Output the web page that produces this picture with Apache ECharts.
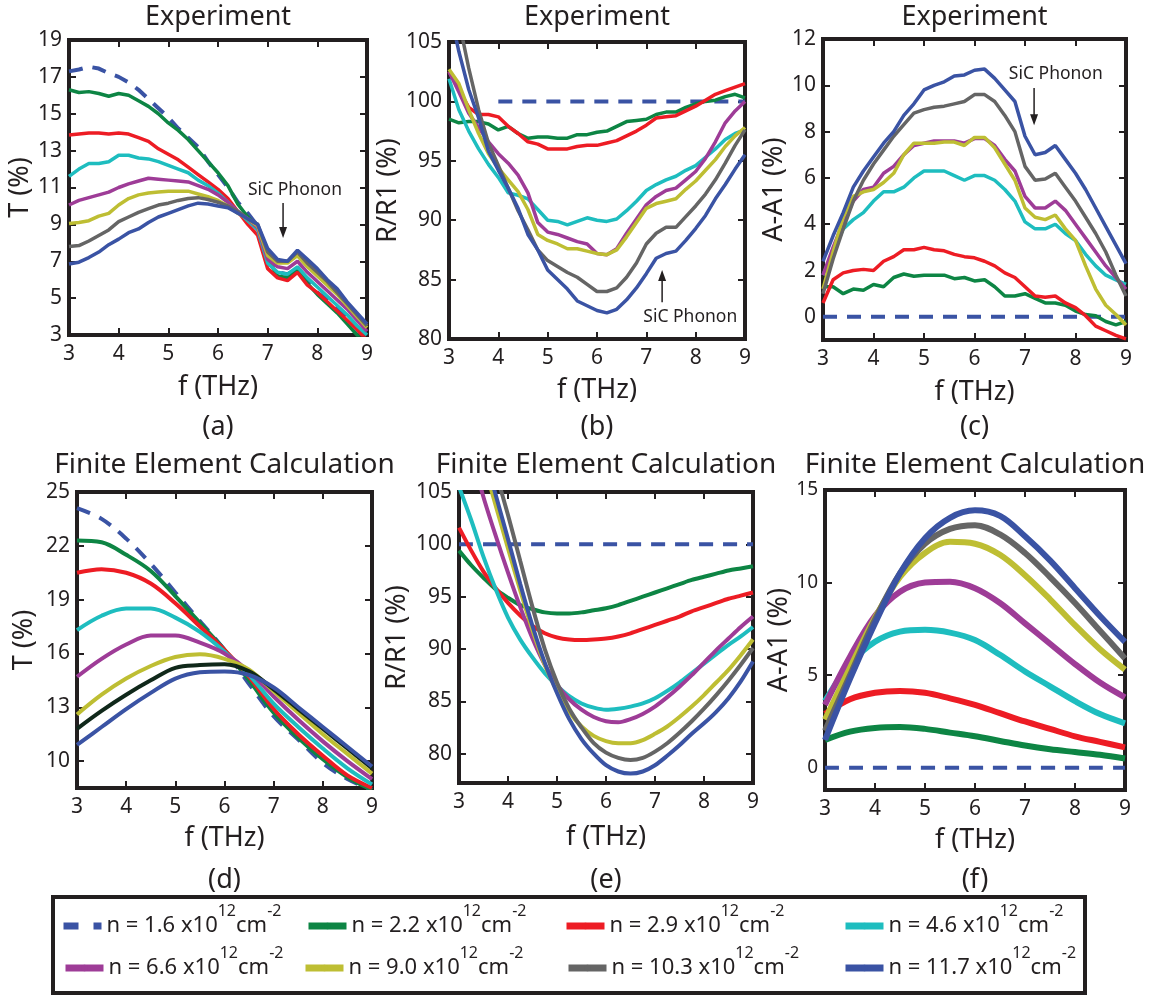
<!DOCTYPE html>
<html><head><meta charset="utf-8">
<script src="https://cdn.jsdelivr.net/npm/echarts@6/dist/echarts.min.js"></script>
<style>html,body{margin:0;padding:0;background:#fff}#main{width:1156px;height:998px}</style>
</head><body><div id="main"></div>
<script>
// ---------- data ----------
const densities = ['1.6','2.2','2.9','4.6','6.6','9.0','10.3','11.7'];
const seriesNames = densities.map(d => 'n = ' + d + ' x10^12 cm^-2');

const fExp = [3.0,3.2,3.4,3.6,3.8,4.0,4.2,4.4,4.6,4.8,5.0,5.2,5.4,5.6,5.8,6.0,6.2,6.4,6.6,6.8,7.0,7.2,7.4,7.6,7.8,8.0,8.2,8.4,8.6,8.8,9.0];
const fCalc = [3.0,3.5,4.0,4.5,5.0,5.5,6.0,6.5,7.0,7.5,8.0,8.5,9.0];
const fCalcE = [3.0,3.25,3.5,3.75,4.0,4.25,4.5,4.75,5.0,5.25,5.5,5.75,6.0,6.25,6.5,6.75,7.0,7.25,7.5,7.75,8.0,8.25,8.5,8.75,9.0];

const yTicksA = [3,5,7,9,11,13,15,17,19];
const yTicksB = [80,85,90,95,100,105];
const yTicksC = [0,2,4,6,8,10,12];
const yTicksD = [10,13,16,19,22,25];
const yTicksE = [80,85,90,95,100,105];
const yTicksF = [0,5,10,15];

// (a) Experiment, T (%)
const expT = [
 [17.3,17.4,17.55,17.45,17.2,17.0,16.7,16.3,15.8,15.3,14.8,14.2,13.7,13.2,12.4,11.7,11.0,10.2,9.6,8.9,7.2,6.4,6.3,6.6,5.9,5.3,4.9,4.4,3.9,3.3,2.8],
 [16.3,16.15,16.2,16.1,15.95,16.1,16.0,15.7,15.4,15.0,14.5,14.1,13.6,13.0,12.4,11.8,11.1,10.1,9.4,8.8,7.1,6.2,6.1,6.5,5.8,5.2,4.7,4.2,3.6,3.0,2.4],
 [13.85,13.9,13.95,13.95,13.9,13.95,13.9,13.7,13.5,13.1,12.8,12.5,12.1,11.7,11.3,10.9,10.4,9.7,9.0,8.4,6.6,6.1,5.95,6.4,5.7,5.3,4.8,4.3,3.8,3.3,2.7],
 [11.6,12.0,12.3,12.3,12.4,12.75,12.75,12.6,12.55,12.4,12.2,12.0,11.8,11.4,11.1,10.7,10.2,9.7,9.2,8.7,6.9,6.4,6.3,6.7,6.1,5.6,5.1,4.6,4.1,3.5,3.0],
 [10.05,10.3,10.45,10.6,10.75,11.0,11.2,11.35,11.5,11.45,11.4,11.35,11.3,11.1,10.9,10.6,10.2,9.7,9.3,8.8,7.1,6.7,6.6,7.0,6.4,5.9,5.4,4.9,4.4,3.8,3.2],
 [9.05,9.1,9.2,9.45,9.6,10.05,10.4,10.6,10.7,10.75,10.8,10.8,10.8,10.65,10.5,10.3,10.0,9.6,9.3,8.9,7.3,6.9,6.9,7.3,6.7,6.2,5.7,5.2,4.6,4.0,3.4],
 [7.8,7.85,8.1,8.4,8.7,9.15,9.4,9.65,9.85,10.05,10.15,10.3,10.4,10.45,10.35,10.2,10.0,9.7,9.3,9.0,7.5,7.0,7.0,7.5,6.9,6.4,5.9,5.3,4.7,4.1,3.5],
 [6.85,6.95,7.2,7.5,7.9,8.2,8.55,8.75,9.1,9.4,9.6,9.8,10.0,10.15,10.1,10.0,9.9,9.6,9.3,9.0,7.7,7.1,7.0,7.6,7.1,6.6,6.0,5.5,4.8,4.2,3.6]
];
// (b) Experiment, R/R1 (%)
const expR = [
 [null,null,null,null,null,100,100,100,100,100,100,100,100,100,100,100,100,100,100,100,100,100,100,100,100,100,100,100,100,100,100],
 [98.5,98.2,98.3,98.3,98.1,97.6,97.9,97.3,96.9,97.0,97.0,96.9,96.9,97.2,97.2,97.4,97.5,97.9,98.3,98.4,98.5,98.9,99.1,99.1,99.5,99.8,100.0,100.1,100.4,100.6,100.3],
 [102.5,101.0,99.5,98.9,98.9,98.7,97.9,97.3,96.6,96.4,96.0,96.0,96.0,96.2,96.3,96.3,96.5,96.7,97.1,97.5,98.0,98.6,98.7,98.8,99.2,99.6,100.1,100.6,100.9,101.2,101.5],
 [101.9,99.3,97.5,96.0,94.7,93.6,92.3,92.1,91.8,90.9,90.0,89.9,89.6,89.9,90.2,90.0,89.9,90.1,90.8,91.6,92.5,93.0,93.4,93.7,94.2,94.6,95.3,96.0,96.8,97.3,97.6],
 [102.5,100.8,99.0,97.8,96.6,95.6,94.8,93.8,92.3,89.8,89.0,88.8,88.5,88.2,88.0,87.2,87.1,87.6,88.9,90.1,91.3,92.0,92.5,92.7,93.4,94.1,95.2,96.6,98.2,99.2,100.0],
 [102.7,101.5,99.3,97.3,95.6,94.4,93.4,92.4,90.9,88.8,88.3,88.0,87.6,87.6,87.4,87.2,87.1,87.5,88.6,89.8,91.0,91.4,91.6,91.8,92.6,93.3,94.2,95.1,96.2,97.1,97.8],
 [111,106.8,102.8,99.3,96.5,94.6,92.7,90.8,89.2,87.5,86.6,86.1,85.6,85.2,84.6,84.0,84.0,84.3,85.2,86.4,88.0,88.9,89.4,89.4,90.3,91.2,92.2,93.4,94.8,96.3,97.6],
 [108,104.2,101.0,98.6,95.8,94.2,92.7,91.0,88.8,87.5,85.8,85.0,84.2,83.2,82.8,82.4,82.2,82.5,83.3,84.3,85.5,86.8,87.2,87.4,88.3,89.3,90.4,91.8,93.0,94.3,95.5]
];
// (c) Experiment, A-A1 (%)
const expA = [
 [0,0,0,0,0,0,0,0,0,0,0,0,0,0,0,0,0,0,0,0,0,0,0,0,0,0,0,0,0,0,0],
 [1.3,1.3,1.0,1.2,1.15,1.4,1.3,1.7,1.85,1.75,1.8,1.8,1.8,1.65,1.7,1.55,1.6,1.3,0.9,0.9,1.0,0.8,0.6,0.6,0.5,0.25,0.1,0.05,-0.2,-0.35,-0.2],
 [0.6,1.6,1.9,2.0,2.05,2.0,2.4,2.6,2.9,2.9,3.0,2.9,2.85,2.7,2.6,2.55,2.4,2.2,1.9,1.7,1.3,0.9,0.85,0.9,0.6,0.4,0.05,-0.4,-0.6,-0.8,-0.95],
 [1.8,2.8,3.8,4.2,4.5,5.0,5.4,5.4,5.6,6.0,6.3,6.3,6.3,6.1,5.9,6.1,6.1,5.9,5.5,5.0,4.1,3.8,3.8,4.0,3.6,3.3,2.7,2.2,1.8,1.6,1.4],
 [1.8,3.0,4.1,5.0,5.5,5.6,6.2,6.5,7.0,7.4,7.5,7.6,7.6,7.6,7.5,7.7,7.7,7.4,6.8,6.3,5.2,4.7,4.7,5.0,4.6,4.0,3.4,2.8,2.2,1.7,1.2],
 [1.2,2.8,4.3,5.2,5.4,5.5,5.8,6.2,7.0,7.5,7.5,7.5,7.55,7.55,7.4,7.75,7.75,7.3,6.6,5.9,4.7,4.3,4.2,4.4,3.8,3.3,2.2,1.2,0.5,0.1,-0.35],
 [1.0,2.5,3.8,5.0,5.9,6.6,7.2,7.8,8.3,8.8,8.95,9.05,9.1,9.2,9.3,9.6,9.6,9.3,8.7,8.0,6.5,5.9,5.95,6.2,5.6,5.0,4.3,3.6,2.8,1.8,0.9],
 [2.4,3.5,4.5,5.6,6.3,6.9,7.5,8.0,8.7,9.2,9.8,10.0,10.15,10.4,10.45,10.65,10.7,10.3,9.8,9.3,7.8,7.0,7.1,7.4,6.8,6.2,5.5,4.7,3.9,3.1,2.3]
];
// (d) Finite element, T (%)
const calcT = [
 [24.1,23.5,22.4,21.0,19.4,17.8,16.2,14.3,12.5,11.2,9.9,9.0,8.4],
 [22.3,22.2,21.5,20.6,19.2,17.7,16.2,14.5,12.7,11.3,10.1,9.1,8.4],
 [20.5,20.7,20.5,19.9,18.8,17.5,16.2,14.7,12.9,11.5,10.3,9.2,8.5],
 [17.3,18.1,18.5,18.5,18.0,17.2,16.1,14.8,13.2,11.9,10.7,9.6,8.7],
 [14.7,15.7,16.5,17.0,17.0,16.6,16.0,15.0,13.6,12.3,11.1,10.0,9.0],
 [12.6,13.7,14.6,15.3,15.8,15.95,15.7,15.1,13.9,12.7,11.5,10.4,9.3],
 [11.8,12.8,13.7,14.5,15.2,15.35,15.4,15.0,14.0,12.9,11.8,10.7,9.6],
 [10.9,11.9,12.9,13.8,14.6,14.95,15.0,14.8,14.1,13.0,11.9,10.8,9.7]
];
// (e) Finite element, R/R1 (%)
const calcR = [
 [100,100,100,100,100,100,100,100,100,100,100,100,100,100,100,100,100,100,100,100,100,100,100,100,100],
 [99.4,98.0,96.8,95.7,94.9,94.2,93.8,93.5,93.4,93.4,93.5,93.7,93.9,94.2,94.6,95.0,95.4,95.8,96.2,96.6,96.9,97.2,97.5,97.7,97.9],
 [101.6,99.4,97.4,95.8,94.4,93.2,92.2,91.5,91.1,90.9,90.85,90.9,91.0,91.2,91.5,91.9,92.3,92.7,93.1,93.6,94.0,94.4,94.8,95.1,95.4],
 [105.5,102.3,98.8,95.7,93.0,90.9,89.2,87.7,86.5,85.5,84.8,84.4,84.2,84.3,84.5,84.8,85.3,86.0,86.8,87.7,88.6,89.5,90.4,91.2,92.1],
 [113,108.8,104.5,100.8,97.3,94.0,91.0,88.5,86.6,85.2,84.2,83.5,83.1,83.0,83.3,83.8,84.5,85.4,86.4,87.5,88.7,89.9,91.0,92.1,93.1],
 [116,112,107.8,103.7,99.6,95.6,91.8,88.5,86.0,84.0,82.6,81.7,81.2,81.0,81.0,81.3,81.9,82.6,83.5,84.5,85.6,86.8,88.0,89.4,90.9],
 [119,115,111,106.9,102.8,98.4,94.0,90.0,86.8,84.3,82.5,81.0,80.1,79.6,79.4,79.6,80.2,81.0,82.0,83.1,84.3,85.6,87.0,88.5,90.1],
 [117,113,108.9,104.7,100.5,96.2,92.2,88.7,85.8,83.3,81.4,80.0,78.9,78.3,78.1,78.3,78.9,79.8,80.8,81.9,82.9,84.0,85.3,86.9,88.8]
];
// (f) Finite element, A-A1 (%)
const calcA = [
 [0,0,0,0,0,0,0,0,0,0,0,0,0],
 [1.5,1.95,2.15,2.2,2.1,1.9,1.7,1.45,1.2,1.0,0.85,0.7,0.5],
 [2.9,3.7,4.05,4.15,4.05,3.75,3.4,2.95,2.5,2.1,1.7,1.4,1.1],
 [3.6,5.6,6.8,7.35,7.45,7.3,6.9,6.1,5.2,4.4,3.6,2.9,2.4],
 [3.4,6.0,8.2,9.5,10.0,10.05,9.7,8.9,7.8,6.7,5.6,4.6,3.8],
 [2.6,5.4,8.1,10.3,11.6,12.2,12.1,11.5,10.4,9.1,7.7,6.4,5.3],
 [2.0,5.0,8.0,10.5,12.1,12.9,13.1,12.6,11.6,10.3,8.9,7.4,5.9],
 [1.5,4.8,7.8,10.5,12.4,13.5,13.9,13.6,12.5,11.2,9.7,8.2,6.8]
];
// SiC phonon annotations (data coordinates)
const phononA = {label:[7.55,10.87], tail:[7.31,10.16], tip:[7.31,8.26]};
const phononB = {label:[7.89,81.85], tail:[7.32,83.1], tip:[7.32,85.8]};
const phononC = {label:[7.61,10.49], tail:[7.18,9.88], tip:[7.18,8.28]};

// ---------- styling ----------
const INK = '#231F20';
const FONT = 'Noto Sans';
const colors = ['#3A53A4','#0D8544','#ED1C24','#1EBDBF','#9E3C97','#BEBE33','#656565','#3A53A4'];
const colorsD = ['#3A53A4','#0D8544','#ED1C24','#1EBDBF','#9E3C97','#BEBE33','#10281A','#3A53A4'];

const panels = [
 {f:fExp, vals:expT, ymin:3, ymax:19, ticks:yTicksA, yName:'T (%)', title:'Experiment', tag:'(a)', lw:3.5, smooth:false, colors:colors,
  grid:{left:69, top:40, width:298, height:295}, yGap:34, xGap:39, tickFont:21},
 {f:fExp, vals:expR, ymin:80, ymax:105, ticks:yTicksB, yName:'R/R1 (%)', title:'Experiment', tag:'(b)', lw:3.5, smooth:false, colors:colors,
  grid:{left:449, top:42, width:296, height:297}, yGap:39, xGap:38, tickFont:21},
 {f:fExp, vals:expA, ymin:-1, ymax:12, ticks:yTicksC, yName:'A-A1 (%)', title:'Experiment', tag:'(c)', lw:3.5, smooth:false, colors:colors,
  grid:{left:823, top:39, width:303, height:301}, yGap:35, xGap:39, tickFont:21},
 {f:fCalc, vals:calcT, ymin:8.5, ymax:25, ticks:yTicksD, yName:'T (%)', title:'Finite Element Calculation', tag:'(d)', lw:4, smooth:0.35, colors:colorsD,
  grid:{left:77, top:492, width:295, height:296}, yGap:39, xGap:37, tickFont:21},
 {f:fCalcE, vals:calcR, ymin:77.2, ymax:105, ticks:yTicksE, yName:'R/R1 (%)', title:'Finite Element Calculation', tag:'(e)', lw:4, smooth:0.3, colors:colors,
  grid:{left:459, top:492, width:294, height:291}, yGap:48, xGap:41, tickFont:21},
 {f:fCalc, vals:calcA, ymin:-1.2, ymax:15, ticks:yTicksF, yName:'A-A1 (%)', title:'Finite Element Calculation', tag:'(f)', lw:6, smooth:0.35, colors:colors,
  grid:{left:825, top:490, width:300, height:300}, yGap:32, xGap:37, tickFont:19}
];

const axisLine = {show:true, onZero:false, lineStyle:{color:INK, width:4, cap:'square'}};
const tickStyle = {color:INK, width:2};
const grids = [], xAxes = [], yAxes = [], series = [];

panels.forEach((p, g) => {
  grids.push(Object.assign({containLabel:false}, p.grid));
  const xc = {type:'value', gridIndex:g, min:3, max:9, interval:1, splitLine:{show:false}, axisLine:axisLine,
              axisTick:{show:true, inside:true, length:7, lineStyle:tickStyle}};
  xAxes.push(Object.assign({}, xc, {position:'bottom',
    axisLabel:{show:true, fontSize:21, color:INK, fontFamily:FONT, margin:9},
    name:'f (THz)', nameLocation:'middle', nameGap:p.xGap,
    nameTextStyle:{fontSize:27, color:INK, fontFamily:FONT}}));
  xAxes.push(Object.assign({}, xc, {position:'top', axisLabel:{show:false}}));
  const yc = {type:'value', gridIndex:g, min:p.ymin, max:p.ymax, splitLine:{show:false}, axisLine:axisLine,
              axisTick:{show:true, inside:true, length:7, lineStyle:tickStyle, customValues:p.ticks}};
  yAxes.push(Object.assign({}, yc, {position:'left',
    axisLabel:{show:true, fontSize:p.tickFont, color:INK, fontFamily:FONT, margin:7, customValues:p.ticks},
    name:p.yName, nameLocation:'middle', nameGap:p.yGap, nameRotate:90,
    nameTextStyle:{fontSize:27, color:INK, fontFamily:FONT}}));
  yAxes.push(Object.assign({}, yc, {position:'right', axisLabel:{show:false}}));
  p.firstSeries = series.length;
  p.vals.forEach((vals, i) => {
    series.push({
      type:'line', name:seriesNames[i], xAxisIndex:2*g, yAxisIndex:2*g,
      data:p.f.map((x, k) => [x, vals[k]]),
      symbol:'none', smooth:p.smooth, clip:true, silent:true,
      emphasis:{disabled:true},
      lineStyle:{color:p.colors[i], width:i === 0 ? 4 : p.lw, type:i === 0 ? [14, 10] : 'solid'},
      itemStyle:{color:p.colors[i]}
    });
  });
});

const legendPos = [[60,903],[305,903],[563,903],[842,903],[62,945],[302,945],[565,945],[842,945]];
const legends = seriesNames.map((nm, i) => ({
  data:[nm], left:legendPos[i][0], top:legendPos[i][1], padding:0, selectedMode:false,
  itemWidth:38, itemHeight:8,
  lineStyle:i === 0 ? {width:7, type:[15,15]} : {width:7},
  itemStyle:i === 0 ? {opacity:0} : {},
  formatter:function(name){
    const d = name.match(/n = ([\d.]+)/)[1];
    return '{t|n = ' + d + ' x10}{s|12}{t|cm}{s|-2}';
  },
  textStyle:{color:INK, fontFamily:FONT, fontSize:22,
    rich:{t:{fontSize:22, fontFamily:FONT, color:INK, verticalAlign:'middle', lineHeight:46},
          s:{fontSize:16, fontFamily:FONT, color:INK, verticalAlign:'top', lineHeight:12}}}
}));

const chart = echarts.init(document.getElementById('main'), null, {renderer:'canvas'});
chart.setOption({
  animation:false, backgroundColor:'#fff',
  grid:grids, xAxis:xAxes, yAxis:yAxes, series:series, legend:legends
});

// ---------- text & annotations ----------
function txt(text, x, y, size){
  return {type:'text', x:x, y:y, silent:true, z:10,
    style:{text:text, fontSize:size, fontFamily:FONT, fill:INK, align:'center', verticalAlign:'middle',
           textAlign:'center', textVerticalAlign:'middle'}};
}
const gfx = [];
panels.forEach((p, g) => {
  const cx = p.grid.left + p.grid.width / 2;
  const top = g < 3;
  gfx.push(txt(p.title, cx, top ? 17 : 465, top ? 27 : 28));
  gfx.push(txt(p.tag, cx, top ? 427 : 880, 27));
});
[[phononA, 0], [phononB, 1], [phononC, 2]].forEach(([a, g]) => {
  const si = panels[g].firstSeries;
  const L = chart.convertToPixel({seriesIndex:si}, a.label);
  const T = chart.convertToPixel({seriesIndex:si}, a.tail);
  const P = chart.convertToPixel({seriesIndex:si}, a.tip);
  gfx.push(txt('SiC Phonon', L[0], L[1], 17.5));
  const dir = P[1] > T[1] ? 1 : -1;
  gfx.push({type:'line', silent:true, z:10, shape:{x1:T[0], y1:T[1], x2:P[0], y2:P[1] - dir * 8},
            style:{stroke:INK, lineWidth:1.5}});
  gfx.push({type:'polygon', silent:true, z:10,
            shape:{points:[[P[0], P[1]], [P[0] - 4, P[1] - dir * 11], [P[0] + 4, P[1] - dir * 11]]},
            style:{fill:INK}});
});
gfx.push({type:'rect', silent:true, z:0, shape:{x:53, y:897, width:1032, height:96},
          style:{fill:'none', stroke:INK, lineWidth:4}});
chart.setOption({graphic:{elements:gfx}});
</script></body></html>
